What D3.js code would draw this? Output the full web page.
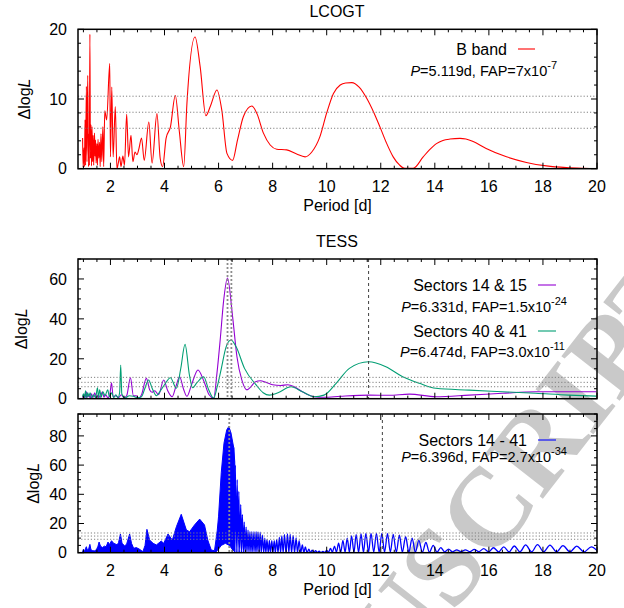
<!DOCTYPE html>
<html>
<head>
<meta charset="utf-8">
<script src="https://cdn.jsdelivr.net/npm/d3@7"></script>
<style>
	body { margin: 0; background: #fff; }
	svg { display: block; font-family: "Liberation Sans", Arial, sans-serif; }
</style>
</head>
<body>
<div id="plot"></div>
<script>

///////////////////////////////////////////////////////////////////////
// data: [ period (d), delta log L ]

const lcogt_b = [
	[0.97,4.4],[0.99,0.2],[1.02,3.0],[1.04,0.3],[1.06,7.0],[1.08,0.5],[1.11,11.8],[1.13,1.0],[1.16,13.4],[1.19,0.3],
	[1.21,5.0],[1.22,0.5],[1.24,19.3],[1.26,1.5],[1.28,6.3],[1.30,0.4],[1.32,6.0],[1.34,1.0],[1.36,4.8],[1.38,0.5],
	[1.41,5.1],[1.43,1.8],[1.45,4.1],[1.47,0.8],[1.50,3.6],[1.52,0.5],[1.54,4.2],[1.57,1.5],[1.60,3.8],[1.62,0.3],
	[1.65,5.0],[1.68,1.0],[1.72,6.0],[1.75,0.3],[1.79,8.3],[1.86,7.0],[1.975,15.1],[2.00,1.7],[2.05,11.7],[2.10,1.7],
	[2.18,8.9],[2.24,0.0],[2.29,0.8],[2.34,1.7],[2.39,0.3],[2.46,1.8],[2.52,0.5],[2.60,7.8],[2.67,1.7],[2.76,4.8],
	[2.83,1.0],[2.91,2.4],[2.98,2.0],[3.05,2.8],[3.15,4.4],[3.25,1.2],[3.42,6.7],[3.54,0.8],[3.72,7.9],[3.84,1.5],
	[3.93,0.3],[4.06,4.4],[4.22,6.0],[4.40,10.5],[4.55,5.3],[4.71,0.3],[4.83,9.4],[5.13,18.9],[5.32,14.6],[5.53,7.6],
	[5.70,9.0],[5.94,11.3],[6.12,8.4],[6.31,2.2],[6.52,1.2],[6.70,4.1],[6.92,7.5],[7.23,9.0],[7.42,7.9],[7.66,5.1],
	[7.91,3.4],[8.15,2.8],[8.52,2.7],[8.89,2.1],[9.20,1.7],[9.45,2.4],[9.75,4.6],[10.0,8.0],[10.25,10.8],[10.5,12.0],
	[10.7,12.3],[10.93,12.35],[11.2,11.7],[11.48,10.1],[11.75,8.0],[11.97,6.0],[12.2,3.8],[12.46,1.7],[12.7,0.5],[12.89,0.05],
	[13.2,0.05],[13.57,1.7],[13.8,2.7],[14.06,3.6],[14.3,4.05],[14.56,4.25],[14.93,4.35],[15.15,4.25],[15.42,3.9],[15.9,2.9],
	[16.65,1.7],[17.39,0.9],[18.13,0.4],[18.87,0.15],[19.48,0.05],[19.97,0.0]
];

const tess_14_15 = [
	[0.97,0.5],[1.0,1.5],[1.03,0.3],[1.06,2.5],[1.09,0.5],[1.12,3.5],[1.15,0.8],[1.2,2.0],[1.25,0.3],[1.3,2.5],
	[1.35,0.5],[1.42,3.0],[1.48,0.5],[1.55,2.0],[1.62,0.5],[1.7,3.5],[1.76,0.8],[1.83,2.0],[1.9,0.5],[1.97,1.5],
	[2.04,8.0],[2.1,1.0],[2.2,1.5],[2.3,0.5],[2.4,2.0],[2.5,0.5],[2.6,1.5],[2.74,10.5],[2.85,1.5],[2.95,1.5],
	[3.05,0.3],[3.15,2.0],[3.33,10.2],[3.45,4.5],[3.54,3.2],[3.64,4.0],[3.78,2.0],[3.97,9.4],[4.12,4.0],[4.28,1.0],
	[4.42,6.0],[4.56,11.0],[4.70,5.0],[4.83,1.2],[5.0,7.0],[5.24,14.4],[5.45,9.0],[5.65,2.0],[5.82,0.3],[5.94,12.7],
	[6.06,29.4],[6.19,49.4],[6.33,60.5],[6.52,41.0],[6.68,21.0],[6.86,9.4],[7.05,4.4],[7.2,6.0],[7.35,8.4],[7.55,9.0],
	[7.75,8.2],[8.0,7.0],[8.3,6.6],[8.56,7.0],[8.8,6.0],[9.1,3.5],[9.54,1.0],[9.9,0.7],[10.5,1.2],[11.58,1.8],
	[12.3,1.7],[13.06,2.3],[14.04,1.0],[15.27,1.8],[16.5,2.7],[17.73,3.5],[18.96,3.5],[19.97,3.5]
];

const tess_40_41 = [
	[0.97,1.0],[1.0,2.5],[1.04,0.5],[1.08,4.0],[1.12,0.5],[1.16,3.0],[1.2,1.0],[1.25,3.0],[1.3,0.5],[1.38,2.0],
	[1.45,0.5],[1.52,5.5],[1.56,0.5],[1.6,4.5],[1.66,0.8],[1.72,3.5],[1.8,1.5],[1.9,4.5],[1.96,1.0],[2.05,3.0],
	[2.12,0.5],[2.2,2.0],[2.28,0.5],[2.34,3.0],[2.38,16.8],[2.42,2.5],[2.48,1.0],[2.55,0.5],[2.7,1.5],[2.85,1.2],
	[3.0,0.5],[3.15,1.0],[3.27,5.0],[3.41,9.4],[3.55,5.0],[3.7,1.5],[3.85,4.0],[4.0,7.0],[4.22,10.5],[4.44,5.2],
	[4.6,15.0],[4.76,27.2],[4.92,12.0],[5.04,5.5],[5.2,8.0],[5.45,11.0],[5.62,5.0],[5.82,0.2],[5.95,6.0],[6.1,15.0],
	[6.28,26.0],[6.46,29.4],[6.65,26.0],[6.96,15.2],[7.39,6.9],[7.65,3.0],[7.88,1.8],[8.2,3.0],[8.68,6.0],[9.1,3.5],
	[9.54,1.0],[9.9,1.8],[10.35,7.7],[10.84,15.2],[11.55,18.5],[12.19,16.0],[12.81,11.0],[13.43,7.7],[14.04,5.2],[15.27,4.3],
	[16.5,3.5],[17.73,2.7],[18.96,1.8],[19.97,1.3]
];

// sectors 14 - 41: below ~6.6 d the alias comb is unresolved, so upper / lower envelope
const tess_all_upper = [
	[0.97,0.5],[1.0,2.3],[1.04,0.8],[1.08,3.0],[1.11,4.1],[1.15,1.5],[1.2,3.0],[1.24,5.7],[1.28,2.0],[1.33,1.5],
	[1.4,1.2],[1.48,2.0],[1.54,4.5],[1.58,7.3],[1.63,4.6],[1.7,3.5],[1.78,4.5],[1.84,4.0],[1.91,7.3],[1.96,5.5],
	[2.04,8.2],[2.12,6.4],[2.18,6.0],[2.25,5.3],[2.3,7.0],[2.37,12.8],[2.43,6.4],[2.53,4.6],[2.6,6.0],[2.71,12.8],
	[2.78,6.4],[2.86,3.0],[2.96,3.5],[3.08,2.3],[3.2,0.7],[3.28,5.0],[3.35,16.0],[3.45,8.7],[3.58,6.4],[3.7,5.3],
	[3.88,8.0],[3.97,6.4],[4.13,12.8],[4.29,8.7],[4.44,17.8],[4.62,26.3],[4.81,15.5],[4.93,14.4],[5.11,19.0],[5.3,23.0],
	[5.48,19.0],[5.6,8.7],[5.73,1.8],[5.85,1.4],[5.95,15.0],[6.0,25.0],[6.1,55.0],[6.2,75.0],[6.3,84.0],[6.38,86.5],
	[6.46,82.0],[6.56,72.0],[6.6,62.0]
];
const tess_all_lower = [
	[0.97,0.0],[5.88,0.0],[6.0,2.5],[6.1,5.0],[6.25,6.4],[6.4,5.0],[6.5,2.5],[6.6,0.5]
];

// resolved comb above ~6.6 d: crests and troughs
const tess_all_peaks = [
	[6.56,72],[6.62,60],[6.69,50],[6.75,42],[6.82,33],[6.88,26],[6.95,21],[7.02,17.5],[7.09,15.5],[7.16,14.5],
	[7.23,14.4],[7.31,14.4],[7.39,14.4],[7.46,14.3],[7.54,14],[7.62,12],[7.71,10],[7.79,9],[7.88,8.5],[7.97,8.2],
	[8.06,8.2],[8.15,9],[8.25,10.5],[8.34,11.5],[8.44,12.3],[8.55,12.8],[8.65,12.5],[8.76,11.6],[8.87,10.2],[8.98,8.2],
	[9.10,5.3],[9.21,4],[9.34,2.5],[9.46,1.8],[9.59,1.4],[9.72,1.0],[9.86,0.9],[10.00,1.5],[10.14,3],[10.29,4.5],
	[10.44,6.5],[10.60,8.5],[10.76,10],[10.92,11.5],[11.09,12.3],[11.27,12.8],[11.45,13.2],[11.64,13.3],[11.84,13.3],[12.04,13.3],
	[12.25,13],[12.46,12.6],[12.69,12],[12.92,11],[13.16,10],[13.41,8.5],[13.67,7],[13.94,5],[14.22,3.5],[14.51,2.5],
	[14.81,2],[15.13,2],[15.46,2.3],[15.81,2.8],[16.17,3.4],[16.55,4.0],[16.94,4.6],[17.36,5.3],[17.80,5.5],[18.26,5.2],
	[18.74,4.8],[19.25,4.5],[19.79,4.0]
];
const tess_all_troughs = [
	[6.59,1.5],[6.655,0],[6.72,0],[6.78,0],[6.85,0],[6.92,0],[6.98,0],[7.05,0],[7.125,0],[7.2,0],
	[7.27,0],[7.35,0],[7.42,0],[7.5,0],[7.58,0],[7.67,0],[7.75,0],[7.84,0],[7.92,0],[8.01,0],
	[8.1,0],[8.2,0],[8.295,0],[8.39,0],[8.495,0],[8.6,0],[8.7,0],[8.81,0],[8.92,0],[9.04,0],
	[9.155,0],[9.275,0],[9.4,0],[9.525,0.1],[9.655,0.1],[9.79,0.1],[9.93,0.2],[10.07,0.3],[10.21,0.3],[10.36,0.3],
	[10.52,0.3],[10.68,0.3],[10.84,0.3],[11.01,0.3],[11.18,0.3],[11.36,0.3],[11.55,0.3],[11.74,0.3],[11.94,0.3],[12.14,0.3],
	[12.355,0.3],[12.575,0.3],[12.8,0.3],[13.04,0.3],[13.28,0.3],[13.54,0.3],[13.8,0.3],[14.08,0.4],[14.36,0.6],[14.66,0.6],
	[14.97,0.7],[15.3,0.7],[15.63,0.7],[15.99,0.6],[16.36,0.6],[16.75,0.6],[17.15,0.6],[17.58,0.6],[18.03,0.6],[18.5,0.6],
	[19.0,0.6],[19.52,0.6],[20.05,0.6]
];

// false alarm levels and marked periods
const fap_lcogt = [ 10.4, 8.1, 5.8 ];
const fap_tess_pair = [ 10.7, 8.2, 6.0 ];
const fap_tess_all = [ 13.5, 11.4, 9.2 ];

const best_tess_pair = [ 6.331, 6.474 ];
const long_tess_pair = [ 11.55 ];
const best_tess_all = [ 6.396 ];
const long_tess_all = [ 12.06 ];

const x_major = [ 2, 4, 6, 8, 10, 12, 14, 16, 18, 20 ];

///////////////////////////////////////////////////////////////////////

let svg = d3.select( "#plot" )
	.append( "svg" )
		.attr( "width", 624 )
		.attr( "height", 608 );

// watermark, under everything
svg.append( "text" )
	.attr( "transform", "translate(706,290) rotate(-52)" )
	.attr( "text-anchor", "end" )
	.attr( "font-family", "Liberation Serif, serif" )
	.attr( "font-weight", "bold" )
	.attr( "font-size", 112 )
	.attr( "fill", "#c9c9c9" )
	.text( "MANUSCRIPT" );

let x = d3.scaleLinear().domain( [ 0.8, 20 ] ).range( [ 78, 597 ] );

function make_panel( id, top, bottom, ymax, y_major, y_minor, x_labels )	{

	let y = d3.scaleLinear().domain( [ 0, ymax ] ).range( [ bottom, top ] );

	svg.append( "clipPath" )
		.attr( "id", "clip_" + id )
		.append( "rect" )
			.attr( "x", x.range()[ 0 ] )
			.attr( "y", top )
			.attr( "width", x.range()[ 1 ] - x.range()[ 0 ] )
			.attr( "height", bottom - top );

	let back = svg.append( "g" );
	let data = svg.append( "g" ).attr( "clip-path", "url(#clip_" + id + ")" );
	let front = svg.append( "g" );

	// ticks, inward on all four sides
	let x_minor = d3.range( 1, 20.01, 0.5 ).filter( v => x_major.indexOf( v ) < 0 );
	let tick = ( v, len, horiz ) => {
		if( horiz )	{
			front.append( "line" ).attr( "x1", x( v ) ).attr( "x2", x( v ) ).attr( "y1", bottom ).attr( "y2", bottom - len );
			front.append( "line" ).attr( "x1", x( v ) ).attr( "x2", x( v ) ).attr( "y1", top ).attr( "y2", top + len );
		}
		else	{
			front.append( "line" ).attr( "x1", x.range()[ 0 ] ).attr( "x2", x.range()[ 0 ] + len ).attr( "y1", y( v ) ).attr( "y2", y( v ) );
			front.append( "line" ).attr( "x1", x.range()[ 1 ] ).attr( "x2", x.range()[ 1 ] - len ).attr( "y1", y( v ) ).attr( "y2", y( v ) );
		}
	};
	x_major.forEach( v => tick( v, 6, true ) );
	x_minor.forEach( v => tick( v, 3, true ) );
	d3.range( 0, ymax + 0.01, y_minor ).forEach( v => tick( v, y_major.indexOf( v ) >= 0 ? 6 : 3, false ) );
	front.selectAll( "line" ).attr( "stroke", "#000" ).attr( "stroke-width", 1 );

	front.append( "rect" )
		.attr( "x", x.range()[ 0 ] )
		.attr( "y", top )
		.attr( "width", x.range()[ 1 ] - x.range()[ 0 ] )
		.attr( "height", bottom - top )
		.attr( "fill", "none" )
		.attr( "stroke", "#000" )
		.attr( "stroke-width", 1.5 );

	front.selectAll( "text.ylab" )
		.data( y_major )
		.join( "text" )
			.attr( "x", 67 )
			.attr( "y", d => y( d ) )
			.attr( "dy", "0.36em" )
			.attr( "text-anchor", "end" )
			.attr( "font-size", 16 )
			.text( d => d );

	if( x_labels )	{
		front.selectAll( "text.xlab" )
			.data( x_major )
			.join( "text" )
				.attr( "x", d => x( d ) )
				.attr( "y", bottom + 23 )
				.attr( "text-anchor", "middle" )
				.attr( "font-size", 16 )
				.text( d => d );
		front.append( "text" )
			.attr( "x", 337.5 )
			.attr( "y", bottom + 42.5 )
			.attr( "text-anchor", "middle" )
			.attr( "font-size", 16 )
			.text( "Period [d]" );
	}

	return { y, back, data, front, top, bottom };
}

function y_title( p, xb )	{

	let t = p.front.append( "text" )
		.attr( "transform", "translate(" + xb + "," + ( ( p.top + p.bottom ) / 2 ) + ") rotate(-90)" )
		.attr( "text-anchor", "middle" )
		.attr( "font-size", 16 );
	t.append( "tspan" ).text( "\u0394log" );
	t.append( "tspan" ).attr( "font-style", "italic" ).text( "L" );
}

function fap_lines( p, levels )	{

	p.data.selectAll( "line.fap" )
		.data( levels )
		.join( "line" )
			.attr( "x1", x.range()[ 0 ] )
			.attr( "x2", x.range()[ 1 ] )
			.attr( "y1", d => p.y( d ) )
			.attr( "y2", d => p.y( d ) )
			.attr( "stroke", "#808080" )
			.attr( "stroke-width", 1 )
			.attr( "stroke-dasharray", "1.2,2" );
}

function period_lines( p, periods, colour, width, dash )	{

	periods.forEach( v => {
		p.data.append( "line" )
			.attr( "x1", x( v ) )
			.attr( "x2", x( v ) )
			.attr( "y1", p.top )
			.attr( "y2", p.bottom )
			.attr( "stroke", colour )
			.attr( "stroke-width", width )
			.attr( "stroke-dasharray", dash );
	} );
}

function curve( p, pts, colour, width )	{

	let line = d3.line()
		.x( d => x( d[ 0 ] ) )
		.y( d => p.y( d[ 1 ] ) )
		.curve( d3.curveMonotoneX );

	p.data.append( "path" )
		.attr( "d", line( pts ) )
		.attr( "fill", "none" )
		.attr( "stroke", colour )
		.attr( "stroke-width", width || 1.1 );
}

function legend( p, label, yb, colour, stat, ys, stat_end, exp )	{

	if( label )	{
		p.front.append( "text" )
			.attr( "x", 527 )
			.attr( "y", yb )
			.attr( "text-anchor", "end" )
			.attr( "font-size", 16 )
			.text( label );
		p.front.append( "line" )
			.attr( "x1", 538 )
			.attr( "x2", 556 )
			.attr( "y1", yb - 6 )
			.attr( "y2", yb - 6 )
			.attr( "stroke", colour )
			.attr( "stroke-width", 1.1 );
	}
	let t = p.front.append( "text" )
		.attr( "x", stat_end )
		.attr( "y", ys )
		.attr( "text-anchor", "end" )
		.attr( "font-size", 14.5 );
	t.append( "tspan" ).attr( "font-style", "italic" ).text( "P" );
	t.append( "tspan" ).text( stat );
	t.append( "tspan" ).attr( "dy", -7 ).attr( "font-size", 11 ).text( exp );
}

///////////////////////////////////////////////////////////////////////
// LCOGT

let p1 = make_panel( "a", 29.3, 168.7, 20, [ 0, 10, 20 ], 2, true );
y_title( p1, 30 );
curve( p1, lcogt_b, "#ff0000" );
fap_lines( p1, fap_lcogt );

svg.append( "text" )
	.attr( "x", 337 ).attr( "y", 16.7 )
	.attr( "text-anchor", "middle" ).attr( "font-size", 16 )
	.text( "LCOGT" );

p1.front.append( "text" )
	.attr( "x", 507 ).attr( "y", 55 )
	.attr( "text-anchor", "end" ).attr( "font-size", 16 )
	.text( "B band" );
p1.front.append( "line" )
	.attr( "x1", 518 ).attr( "x2", 535 ).attr( "y1", 49 ).attr( "y2", 49 )
	.attr( "stroke", "#ff0000" ).attr( "stroke-width", 1.1 );
legend( p1, null, 0, null, "=5.119d, FAP=7x10", 76, 557, "-7" );

///////////////////////////////////////////////////////////////////////
// TESS pairs of sectors

let p2 = make_panel( "b", 259, 398.7, 70, [ 0, 20, 40, 60 ], 5, false );
y_title( p2, 27 );
curve( p2, tess_14_15, "#9400d3" );
curve( p2, tess_40_41, "#009e73" );
fap_lines( p2, fap_tess_pair );
period_lines( p2, best_tess_pair, "#8c8c8c", 1.8, "2,2" );
period_lines( p2, long_tess_pair, "#404040", 1, "3,3" );

svg.append( "text" )
	.attr( "x", 337 ).attr( "y", 247 )
	.attr( "text-anchor", "middle" ).attr( "font-size", 16 )
	.text( "TESS" );

legend( p2, "Sectors 14 & 15", 291, "#9400d3", "=6.331d, FAP=1.5x10", 312, 567, "-24" );
legend( p2, "Sectors 40 & 41", 337, "#009e73", "=6.474d, FAP=3.0x10", 357, 565, "-11" );

///////////////////////////////////////////////////////////////////////
// TESS all sectors

let p3 = make_panel( "c", 414, 552.7, 95, [ 0, 20, 40, 60, 80 ], 5, true );
y_title( p3, 38.5 );

let poly = tess_all_upper.concat( tess_all_lower.slice().reverse() );
p3.data.append( "path" )
	.attr( "d", d3.line().x( d => x( d[ 0 ] ) ).y( d => p3.y( d[ 1 ] ) ).curve( d3.curveLinearClosed )( poly ) )
	.attr( "fill", "#0000ff" )
	.attr( "stroke", "#0000ff" )
	.attr( "stroke-width", 1 );

let comb = tess_all_peaks.concat( tess_all_troughs ).sort( ( a, b ) => a[ 0 ] - b[ 0 ] );
curve( p3, comb, "#0000ff", 1.3 );

fap_lines( p3, fap_tess_all );
period_lines( p3, best_tess_all, "#8c8c8c", 1.8, "2,2" );
period_lines( p3, long_tess_all, "#404040", 1, "3,3" );

legend( p3, "Sectors 14 - 41", 446, "#0000ff", "=6.396d, FAP=2.7x10", 461.5, 567, "-34" );

</script>
</body>
</html>
